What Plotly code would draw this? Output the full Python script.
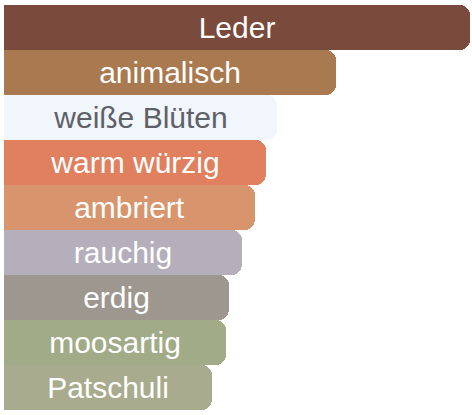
import plotly.graph_objects as go

categories = ["Leder", "animalisch", "weiße Blüten", "warm würzig", "ambriert",
              "rauchig", "erdig", "moosartig", "Patschuli"]
values = [100, 71.2, 58.6, 56.2, 53.9, 51.1, 48.3, 47.6, 44.6]
colors = ["#7a4a3c", "#a97a50", "#f1f5fc", "#e0805f", "#d8946c",
          "#b5afbb", "#9e978f", "#a2ab88", "#a9ab8e"]
text_colors = ["#ffffff", "#ffffff", "#5e6167", "#ffffff", "#ffffff",
               "#ffffff", "#ffffff", "#ffffff", "#ffffff"]

fig = go.Figure(go.Bar(
    x=values,
    y=categories,
    orientation="h",
    marker=dict(color=colors, line=dict(width=0)),
    text=categories,
    textposition="inside",
    insidetextanchor="middle",
    constraintext="none",
    textfont=dict(family="Liberation Sans, Arial, sans-serif", size=30, color=text_colors),
    hoverinfo="skip",
))

fig.update_layout(
    width=472, height=415,
    margin=dict(l=4, r=2, t=5, b=5),
    paper_bgcolor="white", plot_bgcolor="white",
    bargap=0,
    barcornerradius=10,
    showlegend=False,
    uniformtext=dict(mode="show", minsize=30),
    xaxis=dict(range=[0, 100], visible=False, fixedrange=True),
    yaxis=dict(autorange="reversed", visible=False, fixedrange=True),
)

fig.write_html(
    "out.html",
    config={"displayModeBar": False},
    post_script="document.body.style.margin='0';document.body.style.overflow='hidden';",
)
